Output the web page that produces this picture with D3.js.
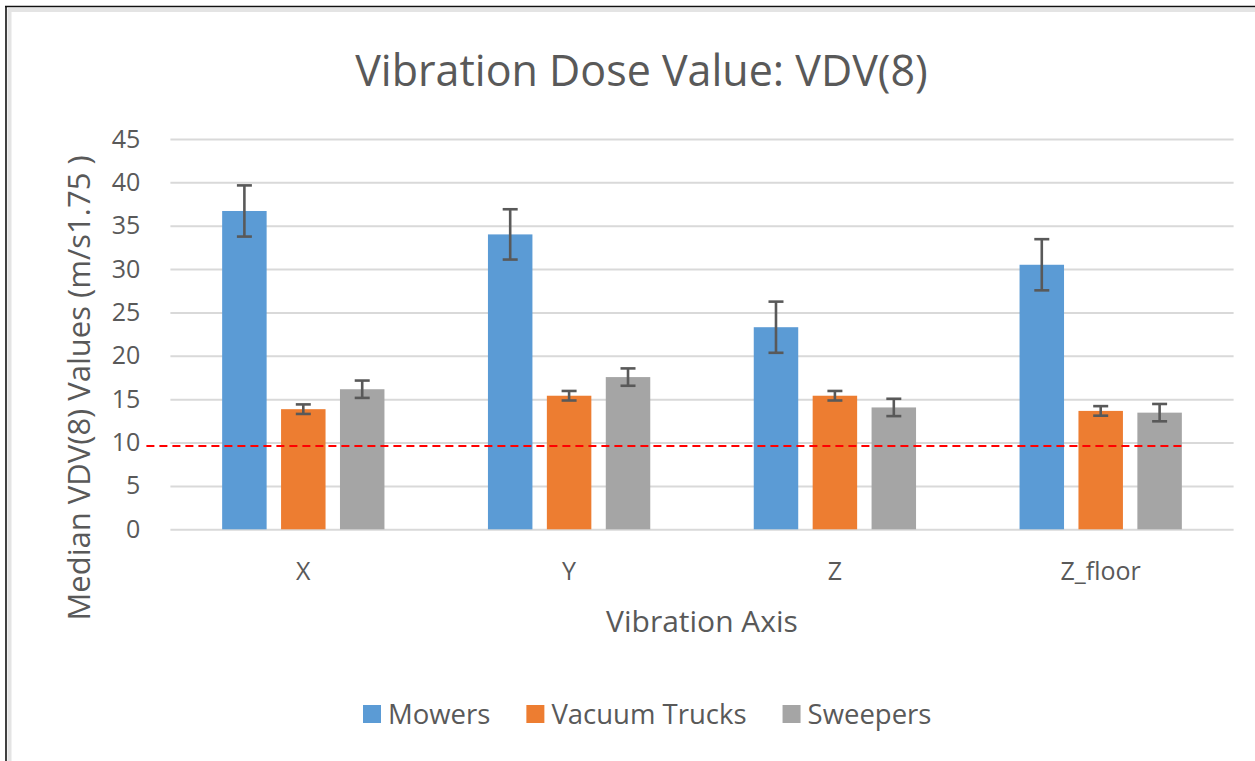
<!DOCTYPE html>
<html>
<head>
<meta charset="utf-8">
<script src="https://cdnjs.cloudflare.com/ajax/libs/d3/7.8.5/d3.min.js"></script>
<style>
  html, body { margin: 0; padding: 0; background: #fff; }
  svg { display: block; }
  text { font-family: "Open Sans", "Noto Sans", sans-serif; fill: #595959; }
</style>
</head>
<body>
<svg id="chart" width="1255" height="761"></svg>
<script>
// ---- data ----
const categories = ["X", "Y", "Z", "Z_floor"];
const seriesNames = ["Mowers", "Vacuum Trucks", "Sweepers"];
const mowers = [36.7, 34.0, 23.3, 30.5];
const mowersErr = [2.95, 2.9, 2.95, 2.95];
const vacuumTrucks = [13.85, 15.4, 15.4, 13.65];
const vacuumTrucksErr = [0.55, 0.55, 0.55, 0.55];
const sweepers = [16.15, 17.55, 14.05, 13.45];
const sweepersErr = [1.0, 1.0, 1.0, 1.0];
const yTicks = [0, 5, 10, 15, 20, 25, 30, 35, 40, 45];
const threshold = 9.6;
const chartTitle = "Vibration Dose Value: VDV(8)";
const xTitle = "Vibration Axis";
const yTitle = "Median VDV(8) Values (m/s1.75 )";

const colors = ["#5B9BD5", "#ED7D31", "#A5A5A5"];
const values = [mowers, vacuumTrucks, sweepers];
const errors = [mowersErr, vacuumTrucksErr, sweepersErr];

const rows = [];
categories.forEach((c, i) => {
  seriesNames.forEach((s, j) => {
    rows.push({ cat: c, series: s, value: values[j][i], err: errors[j][i], color: colors[j] });
  });
});

// ---- layout ----
const svg = d3.select("#chart");
const plotLeft = 170.4, plotRight = 1233.6, plotTop = 139, plotBottom = 529.3;

const x0 = d3.scaleBand().domain(categories).range([plotLeft, plotRight])
  .paddingInner(0.3894).paddingOuter(0.1947);
const x1 = d3.scaleBand().domain(seriesNames).range([0, x0.bandwidth()])
  .paddingInner(0.245).paddingOuter(0);
const y = d3.scaleLinear().domain([0, 45]).range([plotBottom, plotTop]);

// border
svg.append("line").attr("x1", 9.5).attr("x2", 9.5).attr("y1", 9).attr("y2", 761)
  .attr("stroke", "#e4e4e4").attr("stroke-width", 4);
svg.append("line").attr("x1", 8).attr("x2", 1255).attr("y1", 10).attr("y2", 10)
  .attr("stroke", "#e4e4e4").attr("stroke-width", 4);
svg.append("line").attr("x1", 6).attr("x2", 6).attr("y1", 6).attr("y2", 761)
  .attr("stroke", "#111").attr("stroke-width", 1.6);
svg.append("line").attr("x1", 5).attr("x2", 1255).attr("y1", 6.5).attr("y2", 6.5)
  .attr("stroke", "#111").attr("stroke-width", 1.6);

// gridlines
const yAxis = d3.axisLeft(y).tickValues(yTicks).tickSize(-(plotRight - plotLeft)).tickPadding(30);
const gy = svg.append("g").attr("transform", `translate(${plotLeft},0)`).call(yAxis);
gy.select(".domain").remove();
gy.selectAll(".tick line").attr("stroke", "#d9d9d9").attr("stroke-width", 2);
gy.selectAll(".tick text").attr("font-size", 25).attr("fill", "#595959")
  .attr("font-family", "'Open Sans', sans-serif");

// bars
svg.append("g").selectAll("rect").data(rows).join("rect")
  .attr("x", d => x0(d.cat) + x1(d.series))
  .attr("y", d => y(d.value))
  .attr("width", x1.bandwidth())
  .attr("height", d => y(0) - y(d.value))
  .attr("fill", d => d.color);

// error bars
const eb = svg.append("g").attr("stroke", "#595959").attr("stroke-width", 2.6).attr("fill", "none");
rows.forEach(d => {
  const cx = x0(d.cat) + x1(d.series) + x1.bandwidth() / 2;
  const capHalf = 7.5;
  eb.append("line").attr("x1", cx).attr("x2", cx).attr("y1", y(d.value + d.err)).attr("y2", y(d.value - d.err));
  eb.append("line").attr("x1", cx - capHalf).attr("x2", cx + capHalf).attr("y1", y(d.value + d.err)).attr("y2", y(d.value + d.err));
  eb.append("line").attr("x1", cx - capHalf).attr("x2", cx + capHalf).attr("y1", y(d.value - d.err)).attr("y2", y(d.value - d.err));
});

// threshold dashed line
const lastCat = categories[categories.length - 1];
const lastSeries = seriesNames[seriesNames.length - 1];
svg.append("line")
  .attr("x1", plotLeft - 24)
  .attr("x2", x0(lastCat) + x1(lastSeries) + x1.bandwidth() + 4)
  .attr("y1", y(threshold)).attr("y2", y(threshold))
  .attr("stroke", "#FF0000").attr("stroke-width", 2).attr("stroke-dasharray", "8,5");

// category labels
svg.append("g").selectAll("text").data(categories).join("text")
  .attr("x", d => x0(d) + x0.bandwidth() / 2)
  .attr("y", 580)
  .attr("text-anchor", "middle")
  .attr("font-size", 25)
  .text(d => d);

// titles
svg.append("text").attr("x", 641.5).attr("y", 86).attr("text-anchor", "middle")
  .attr("font-size", 43).text(chartTitle);
svg.append("text").attr("x", (plotLeft + plotRight) / 2).attr("y", 632).attr("text-anchor", "middle")
  .attr("font-size", 30).text(xTitle);
svg.append("text").attr("transform", "translate(90,388) rotate(-90)").attr("text-anchor", "middle")
  .attr("font-size", 31).text(yTitle);

// legend
const lg = svg.append("g");
let lx = 363;
seriesNames.forEach((s, j) => {
  lg.append("rect").attr("x", lx).attr("y", 705).attr("width", 18).attr("height", 18).attr("fill", colors[j]);
  const t = lg.append("text").attr("x", lx + 25).attr("y", 724).attr("font-size", 27.5).text(s);
  const w = t.node().getComputedTextLength();
  lx = lx + 25 + w + 36;
});
</script>
</body>
</html>
